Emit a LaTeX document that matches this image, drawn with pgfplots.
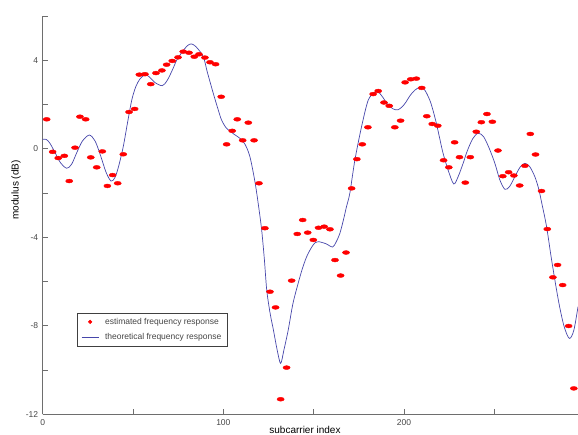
\documentclass[border=0pt]{standalone}
\usepackage{fontspec}
\setmainfont{Liberation Sans}
\usepackage{pgfplots}
\pgfplotsset{compat=1.18}
\definecolor{theo}{RGB}{70,70,170}
\definecolor{axgray}{RGB}{110,110,110}
\definecolor{txtgray}{RGB}{70,70,70}
\begin{document}
\begin{tikzpicture}
\begin{axis}[
  scale only axis,
  width=535.3pt, height=398.3pt,
  xmin=0, xmax=296.3, ymin=-12, ymax=6,
  axis lines*=left,
  axis line style={-, axgray, line width=0.8pt},
  tick align=inside,
  major tick length=5pt,
  tick style={axgray, line width=0.6pt},
  xtick={0,50,...,250}, xticklabels={0,,100,,200,},
  ytick={-12,-10,...,6}, yticklabels={-12,,-8,,-4,,0,,4,},
  /pgf/number format/assume math mode=true,
  ticklabel style={font=\fontsize{8.5}{10}\selectfont, text=txtgray},
  xticklabel style={yshift=-2pt},
  yticklabel style={xshift=-1pt},
  label style={font=\fontsize{8.5}{10}\selectfont, text=txtgray},
  xlabel={subcarrier index},
  ylabel={modulus (dB)},
  every axis x label/.style={at={(axis description cs:0.49,0)}, yshift=-18.8pt, anchor=base, inner sep=0pt},
  every axis y label/.style={at={(axis description cs:-0.0499,0.563)}, rotate=90, anchor=center},
  legend style={at={(0.064,0.255)}, anchor=north west, draw=black!75, line width=0.6pt,
    font=\fontsize{8.5}{10}\selectfont, text=txtgray, row sep=3.5pt, column sep=4pt,
    inner xsep=4pt, inner ysep=3pt},
  legend cell align=left,
]
\addplot[only marks, mark=*, mark size=1.95pt, red,
  mark options={xscale=1.85, fill=red, draw=red},
  legend image post style={mark options={xscale=1, fill=red, draw=red, scale=0.9}}]
coordinates {
(2.2,1.33) (5.5,-0.14) (8.6,-0.42) (12,-0.32) (14.7,-1.46) (17.9,0.05) (20.6,1.45) (23.8,1.33)
(26.6,-0.39) (29.9,-0.84) (33,-0.12) (35.8,-1.68) (38.7,-1.19) (41.5,-1.56) (44.6,-0.25) (47.8,1.66)
(50.9,1.8) (53.5,3.35) (56.6,3.37) (59.8,2.92) (62.7,3.42) (66,3.54) (68.6,3.8) (71.7,3.97)
(74.9,4.13) (77.8,4.39) (81,4.34) (83.9,4.16) (86.5,4.27) (89.8,4.12) (92.6,3.91) (95.7,3.82)
(98.8,2.35) (101.8,0.2) (104.9,0.81) (107.7,1.33) (110.7,0.38) (113.8,1.18) (117,0.38) (119.7,-1.56)
(123,-3.59) (125.8,-6.46) (128.9,-7.17) (131.7,-11.32) (135,-9.89) (137.8,-5.96) (140.9,-3.85) (143.9,-3.22)
(146.7,-3.79) (149.8,-4.12) (152.7,-3.57) (155.8,-3.52) (159,-3.64) (161.8,-5.03) (164.9,-5.73) (167.9,-4.69)
(171,-1.79) (173.9,-0.47) (176.9,0.2) (180,0.97) (182.9,2.47) (185.7,2.61) (188.9,2.09) (191.8,1.94)
(194.9,0.97) (198.1,1.27) (200.6,3.0) (203.7,3.14) (206.8,3.17) (209.8,2.75) (212.6,1.47) (215.6,1.12)
(218.7,1.04) (221.9,-0.52) (224.8,-0.84) (228,0.29) (230.7,-0.38) (233.9,-1.53) (236.7,-0.38) (240,0.77)
(242.8,1.2) (245.9,1.57) (248.9,1.22) (252,-0.08) (254.7,-1.24) (257.9,-1.06) (260.8,-1.21) (264,-1.66)
(266.9,-0.77) (269.9,0.67) (272.8,-0.26) (276.1,-1.91) (279.3,-3.63) (282.4,-5.81) (285,-5.25) (287.8,-6.16)
(291.1,-8.01) (294,-10.83) (297,-8.49)
};
\addlegendentry{estimated frequency response}
\addplot[theo, line width=0.7pt, smooth, tension=0.5] coordinates {
(0,0.43) (2,0.42) (4,0.25) (7,-0.2) (10,-0.65) (13.3,-0.88) (16,-0.7) (19,-0.15) (22,0.35)
(25.8,0.62) (29,0.35) (32,-0.3) (35,-1.05) (37.8,-1.46) (40,-1.3) (42,-0.8) (44.6,0.1) (47,1.2)
(49.3,2.2) (51.5,2.8) (53.8,3.15) (56.6,3.34) (59,3.25) (62,3.0) (66.2,2.85) (69,3.1) (72,3.6)
(74.2,4.01) (77,4.35) (80,4.65) (82.3,4.74) (85,4.6) (88.9,4.16) (91,3.5) (94.4,2.51) (97,1.8)
(99,1.3) (101.5,0.95) (103.7,0.8) (106,0.65) (109.2,0.47) (112,0.2) (114.7,-0.36) (117.5,-1.5)
(119.5,-2.6) (121.2,-3.67) (122.7,-5.0) (124,-6.38) (125.8,-7.4) (127.7,-8.19) (129.8,-9.1)
(131.7,-9.7) (133.5,-9.1) (135.9,-8.19) (138.5,-7.0) (141.4,-6.08) (143.8,-5.4) (146.1,-4.88)
(148.5,-4.5) (150.7,-4.25) (153,-4.2) (154.4,-4.23) (157,-4.3) (160.5,-4.44) (162.5,-4.2)
(164.5,-3.82) (166.5,-3.2) (168.2,-2.6) (170,-2.01) (172.8,-0.51) (176.5,1.0) (180.2,2.2)
(183.9,2.55) (186,2.55) (188.5,2.3) (191,2.0) (194,1.8) (196.6,1.76) (199,1.9) (201,2.1)
(203.3,2.4) (206,2.65) (209,2.78) (211.5,2.65) (214.2,2.21) (216,1.75) (217.9,1.15) (219.8,0.45)
(221.6,-0.2) (224.4,-0.96) (227.5,-1.59) (230,-1.25) (232.7,-0.66) (235,-0.1) (238,0.45) (241,0.7)
(244,0.55) (247,0.05) (250.3,-0.66) (253,-1.4) (255.8,-1.83) (258.5,-1.7) (262.3,-1.11) (264.5,-0.8)
(266.9,-0.66) (269.5,-0.8) (272.4,-1.26) (274.5,-1.8) (276.1,-2.4) (278.9,-3.52) (281.7,-5.03)
(285.4,-6.83) (288.5,-8.0) (291.5,-8.57) (294,-8.2) (296.3,-7.14)
};
\addlegendentry{theoretical frequency response}
\end{axis}
\pgfresetboundingbox
\path[use as bounding box] (-42.7pt,-20.7pt) rectangle (535.3pt,414.3pt);
\end{tikzpicture}
\end{document}
